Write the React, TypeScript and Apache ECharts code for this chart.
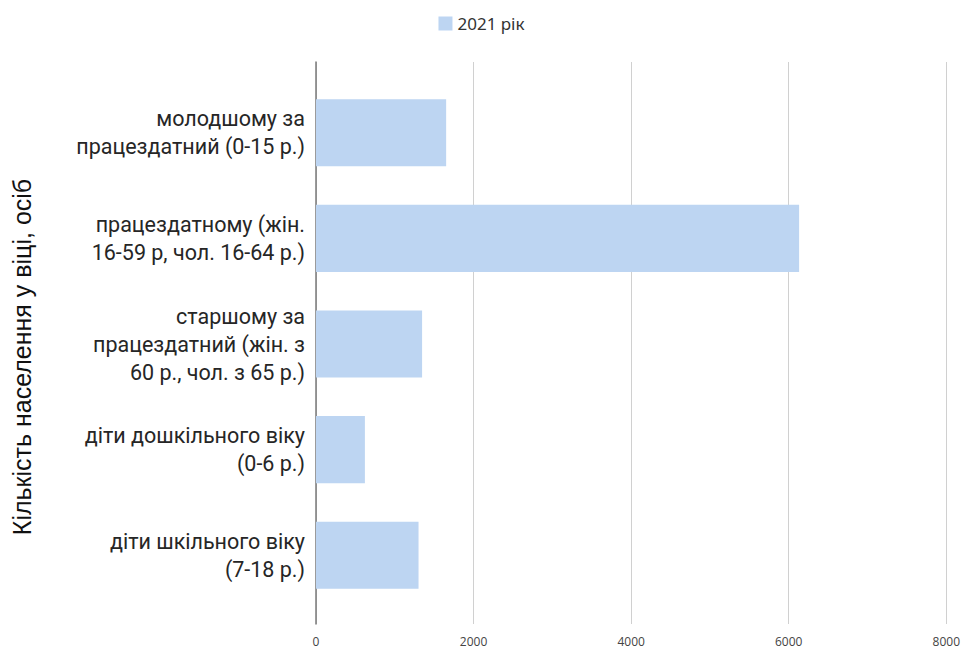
import React, { useEffect, useRef } from "react";
import * as echarts from "echarts";

const categories = [
  "молодшому за\nпрацездатний (0-15 р.)",
  "працездатному (жін.\n16-59 р, чол. 16-64 р.)",
  "старшому за\nпрацездатний (жін. з\n60 р., чол. з 65 р.)",
  "діти дошкільного віку\n(0-6 р.)",
  "діти шкільного віку\n(7-18 р.)",
];
const values2021 = [1650, 6125, 1345, 620, 1300];
const seriesName = "2021 рік";
const yAxisTitle = "Кількість населення у віці, осіб";
const xMin = 0;
const xMax = 8000;
const xInterval = 2000;

export default function App() {
  const ref = useRef<HTMLDivElement>(null);
  useEffect(() => {
    if (!ref.current) return;
    const chart = echarts.init(ref.current, undefined, { renderer: "svg" });
    chart.setOption({
      animation: false,
      backgroundColor: "#ffffff",
      legend: {
        top: 10,
        left: "center",
        icon: "rect",
        itemWidth: 14,
        itemHeight: 14,
        itemGap: 8,
        textStyle: { fontFamily: "Noto Sans", fontSize: 17, color: "#333" },
        data: [seriesName],
      },
      graphic: [
        {
          type: "text",
          x: 22,
          y: 357,
          rotation: Math.PI / 2,
          style: {
            text: yAxisTitle,
            fontFamily: "Liberation Sans",
            fontSize: 25,
            fill: "#111",
            align: "center",
            verticalAlign: "middle",
          },
        },
      ],
      grid: [
        { left: 316, right: 16, top: 62, bottom: 25, containLabel: false },
        { left: 316, right: 16, top: 80, bottom: 41, containLabel: false },
      ],
      xAxis: [
        {
          gridIndex: 0,
          type: "value",
          min: xMin,
          max: xMax,
          interval: xInterval,
          axisLine: { show: false },
          axisTick: { show: false },
          splitLine: { show: true, lineStyle: { color: "#d0d0d0", width: 1 } },
          axisLabel: {
            margin: 11,
            fontFamily: "Open Sans",
            fontSize: 12,
            color: "#444",
            formatter: (v: number) => String(v),
          },
        },
        {
          gridIndex: 1,
          type: "value",
          min: xMin,
          max: xMax,
          interval: xInterval,
          show: false,
        },
      ],
      yAxis: [
        {
          gridIndex: 0,
          type: "value",
          min: 0,
          max: 1,
          axisLine: { show: true, onZero: false, lineStyle: { color: "#7a7a7a", width: 1.5 } },
          axisTick: { show: false },
          axisLabel: { show: false },
          splitLine: { show: false },
        },
        {
          gridIndex: 1,
          type: "category",
          inverse: true,
          data: categories,
          axisLine: { show: false },
          axisTick: { show: false },
          axisLabel: {
            margin: 11,
            fontFamily: "Roboto",
            fontSize: 21.5,
            lineHeight: 28,
            color: "#262626",
            align: "right",
          },
        },
      ],
      series: [
        {
          name: seriesName,
          type: "bar",
          xAxisIndex: 1,
          yAxisIndex: 1,
          data: values2021,
          barWidth: "63.5%",
          itemStyle: { color: "#bdd5f2" },
        },
      ],
    });
    return () => chart.dispose();
  }, []);
  return <div ref={ref} style={{ width: 963, height: 649, position: "absolute", left: 0, top: 0 }} />;
}
